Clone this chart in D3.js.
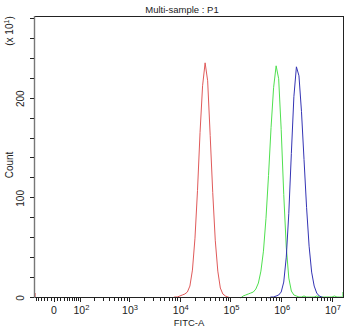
<!DOCTYPE html>
<html>
<head>
<meta charset="utf-8">
<script src="https://cdn.jsdelivr.net/npm/d3@7"></script>
<style>
  body { margin: 0; background: #fff; }
  text { font-family: "Liberation Sans", Arial, sans-serif; fill: #222; }
</style>
</head>
<body>
<svg id="chart" width="350" height="330"></svg>
<script>
// Chart text
const title = "Multi-sample : P1";
const xLabel = "FITC-A";
const yLabel = "Count";
const yMultiplierExp = "1";

// Axis ticks
const xMajorTicks = [0, 1e2, 1e3, 1e4, 1e5, 1e6, 1e7];
const xMajorExps = ["", "2", "3", "4", "5", "6", "7"];
const yMajorTicks = [0, 100, 200];
const yMinorTicks = [20, 40, 60, 80, 120, 140, 160, 180, 220, 240, 260, 280];

// Display limits of the FITC-A axis and count axis
const fitcMin = -68;
const fitcMax = 1.73e7;
const countMax = 283;

// Histogram bins: log10(FITC-A) of the first bin, then fixed width in decades
const binStep = 0.05;

const redStart = 3.85;
const redCounts = [0, 1, 1, 2, 3, 4, 6, 12, 28, 60, 108, 166, 213, 236, 218, 163, 106, 58, 27, 10, 4, 2, 1, 0];

const greenStart = 5.20;
const greenCounts = [0, 2, 3, 4, 5, 6, 9, 15, 27, 47, 80, 123, 171, 211, 233, 220, 169, 104, 51, 20, 7, 3, 2, 1,
  1, 2, 1, 1, 1, 1, 2, 1, 1, 1, 1, 1, 1, 2, 1, 1, 1];

const blueStart = 5.75;
const blueCounts = [0, 1, 1, 2, 3, 6, 16, 41, 85, 145, 202, 232, 223, 187, 139, 91, 52, 26, 12, 5, 2, 1, 0];

// Events piled up at the display limits
const redAtMin = 5;
const greenAtMax = 6;

const series = [
  { name: "red", start: redStart, counts: redCounts, color: "#e05a5a" },
  { name: "green", start: greenStart, counts: greenCounts, color: "#4fe04f" },
  { name: "blue", start: blueStart, counts: blueCounts, color: "#3434b4" }
];

// Biexponential display transform (linear near zero, logarithmic above)
const W = 66;
const T = v => Math.asinh(v / W) / Math.LN10;

const plotLeft = 34, plotRight = 344, plotTop = 16, plotBottom = 298;

const xs = d3.scaleLinear().domain([T(fitcMin), T(fitcMax)]).range([plotLeft, plotRight]);
const x = v => xs(T(v));
const y = d3.scaleLinear().domain([0, countMax]).range([plotBottom, plotTop]);

const svg = d3.select("#chart");

// Minor ticks for the x axis
const xMinorTicks = [];
for (let v = -60; v < 100; v += 10) if (v !== 0) xMinorTicks.push(v);
for (let p = 2; p <= 6; p++) for (let k = 2; k <= 9; k++) xMinorTicks.push(k * Math.pow(10, p));

// Histogram lines
const line = d3.line().x(d => x(d[0])).y(d => y(d[1]));
series.forEach(s => {
  const pts = s.counts.map((c, i) => [Math.pow(10, s.start + i * binStep), c]);
  svg.append("path")
    .attr("d", line(pts))
    .attr("fill", "none")
    .attr("stroke", s.color)
    .attr("stroke-width", 1)
    .attr("stroke-linejoin", "round");
});

// Edge piles
svg.append("line")
  .attr("x1", x(fitcMin) + 1).attr("x2", x(fitcMin) + 1)
  .attr("y1", y(0)).attr("y2", y(redAtMin))
  .attr("stroke", "#e05a5a").attr("stroke-width", 1.2);
svg.append("line")
  .attr("x1", x(fitcMax) - 1).attr("x2", x(fitcMax) - 1)
  .attr("y1", y(0)).attr("y2", y(greenAtMax))
  .attr("stroke", "#4fe04f").attr("stroke-width", 1.2);

// Frame
svg.append("line").attr("x1", plotLeft).attr("x2", plotRight).attr("y1", plotTop + 0.5).attr("y2", plotTop + 0.5)
  .attr("stroke", "#222").attr("stroke-width", 1);
svg.append("line").attr("x1", plotRight - 0.5).attr("x2", plotRight - 0.5).attr("y1", plotTop).attr("y2", plotBottom)
  .attr("stroke", "#222").attr("stroke-width", 1);
svg.append("line").attr("x1", plotLeft).attr("x2", plotRight).attr("y1", plotBottom - 0.5).attr("y2", plotBottom - 0.5)
  .attr("stroke", "#222").attr("stroke-width", 1);
svg.append("line").attr("x1", plotLeft + 0.5).attr("x2", plotLeft + 0.5).attr("y1", plotTop).attr("y2", plotBottom)
  .attr("stroke", "#777").attr("stroke-width", 1.4);

// X ticks
const xt = svg.append("g").attr("stroke", "#222").attr("stroke-width", 1);
xMinorTicks.forEach(v => {
  const px = Math.round(x(v)) + 0.5;
  xt.append("line").attr("x1", px).attr("x2", px).attr("y1", plotBottom).attr("y2", plotBottom + 3);
});
xMajorTicks.forEach(v => {
  const px = Math.round(x(v)) + 0.5;
  xt.append("line").attr("x1", px).attr("x2", px).attr("y1", plotBottom).attr("y2", plotBottom + 4);
});
xMajorTicks.forEach((v, i) => {
  const t = svg.append("text")
    .attr("x", x(v) + (i === 0 ? 0 : 1))
    .attr("y", 314)
    .attr("text-anchor", "middle")
    .attr("font-size", 10.5);
  if (xMajorExps[i] === "") {
    t.text("0");
  } else {
    t.append("tspan").text("10");
    t.append("tspan").attr("dy", -4.5).attr("font-size", 7.5).text(xMajorExps[i]);
  }
});

// Y ticks
const yt = svg.append("g").attr("stroke", "#222").attr("stroke-width", 1);
yMajorTicks.concat(yMinorTicks).forEach(v => {
  const py = Math.round(y(v)) - 0.5;
  yt.append("line").attr("x1", plotLeft - 4).attr("x2", plotLeft).attr("y1", py).attr("y2", py);
});
yMajorTicks.forEach(v => {
  svg.append("text")
    .attr("transform", `translate(24,${y(v)}) rotate(-90)`)
    .attr("text-anchor", "middle")
    .attr("font-size", 10)
    .text(v);
});

// Titles
svg.append("text").attr("x", 182).attr("y", 12.5).attr("text-anchor", "middle")
  .attr("font-size", 9.5).text(title);
svg.append("text").attr("x", 189).attr("y", 326).attr("text-anchor", "middle")
  .attr("font-size", 9.5).text(xLabel);
svg.append("text").attr("transform", "translate(13,165) rotate(-90)").attr("text-anchor", "middle")
  .attr("font-size", 10).text(yLabel);
const mult = svg.append("text").attr("transform", "translate(13,31) rotate(-90)")
  .attr("text-anchor", "middle").attr("font-size", 10);
mult.append("tspan").text("(x 10");
mult.append("tspan").attr("dy", -4).attr("font-size", 7).text(yMultiplierExp);
mult.append("tspan").attr("dy", 4).text(")");
</script>
</body>
</html>
